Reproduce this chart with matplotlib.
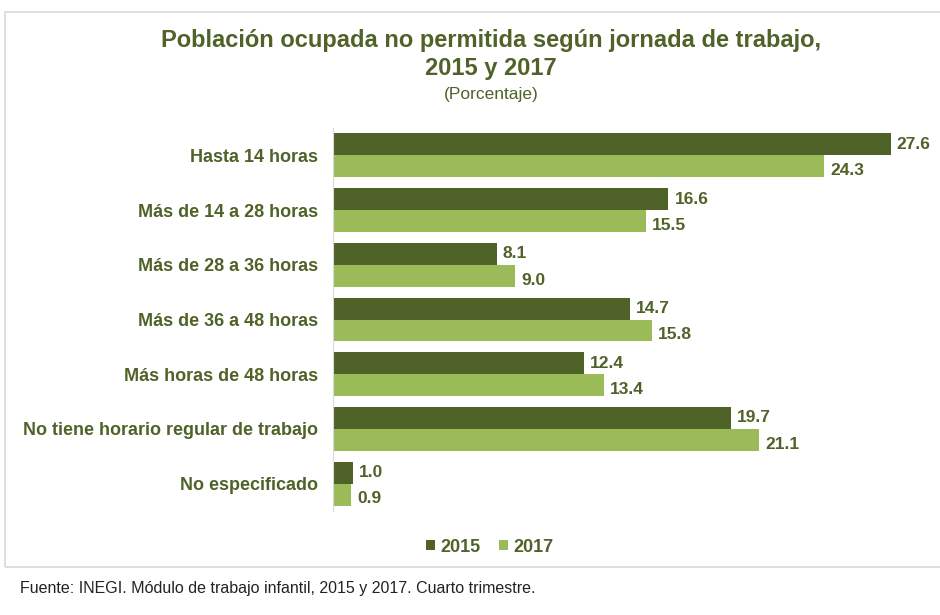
import matplotlib.pyplot as plt
import numpy as np
from matplotlib.patches import Rectangle

plt.rcParams['font.family'] = ['Liberation Sans', 'DejaVu Sans']

# Datos
categorias = ['Hasta 14 horas', 'Más de 14 a 28 horas', 'Más de 28 a 36 horas',
              'Más de 36 a 48 horas', 'Más horas de 48 horas',
              'No tiene horario regular de trabajo', 'No especificado']
valores_2015 = [27.6, 16.6, 8.1, 14.7, 12.4, 19.7, 1.0]
valores_2017 = [24.3, 15.5, 9.0, 15.8, 13.4, 21.1, 0.9]
series = ['2015', '2017']

oscuro = '#4F6228'
claro = '#9BBB59'
texto = '#4F6228'

fig = plt.figure(figsize=(9.4, 6.15), dpi=100)

# marco del grafico
fig.patches.append(Rectangle((5 / 940, 1 - 567 / 615), 940 / 940, (567 - 12) / 615,
                             transform=fig.transFigure, fill=False,
                             edgecolor='#d9d9d9', linewidth=1.2))

ax = fig.add_axes([333 / 940, 1 - 511 / 615, 586 / 940, 383 / 615])

y = np.arange(len(categorias))
h = 0.4
b1 = ax.barh(y - h / 2, valores_2015, height=h, color=oscuro, label=series[0])
b2 = ax.barh(y + h / 2, valores_2017, height=h, color=claro, label=series[1])

# etiquetas de valor (las de 2017 quedan un poco mas abajo)
for bars, dy in ((b1, 0.0), (b2, 0.08)):
    for r in bars:
        ax.text(r.get_width() + 0.3, r.get_y() + r.get_height() / 2 + dy, f'{r.get_width():.1f}',
                va='center', ha='left', fontsize=12.5, fontweight='bold', color=texto)

ax.set_xlim(0, 29)
ax.set_ylim(len(categorias) - 0.5, -0.5)
ax.set_yticks(y)
ax.set_yticklabels(categorias, fontsize=13, fontweight='bold', color=texto)
ax.tick_params(axis='y', length=0, pad=11)
ax.set_xticks([])
for s in ['top', 'right', 'bottom']:
    ax.spines[s].set_visible(False)
ax.spines['left'].set_color('#d9d9d9')

fig.text(491 / 940, 1 - 40 / 615, 'Población ocupada no permitida según jornada de trabajo,',
         ha='center', va='center', fontsize=17, fontweight='bold', color=oscuro)
fig.text(491 / 940, 1 - 69 / 615, '2015 y 2017', ha='center', va='center',
         fontsize=17, fontweight='bold', color=oscuro)
fig.text(491 / 940, 1 - 95 / 615, '(Porcentaje)', ha='center', va='center',
         fontsize=12.5, color=oscuro)

fig.legend(loc='center', bbox_to_anchor=(490 / 940, 1 - 547 / 615), ncol=2,
           frameon=False, handlelength=0.5, handleheight=0.5, handletextpad=0.3,
           columnspacing=1.0, prop={'size': 13, 'weight': 'bold'}, labelcolor=texto)

fig.text(20 / 940, 1 - 588 / 615, 'Fuente: INEGI. Módulo de trabajo infantil, 2015 y 2017. Cuarto trimestre.',
         ha='left', va='center', fontsize=11.5, color='#222222')

fig.savefig('out.png', dpi=100)
